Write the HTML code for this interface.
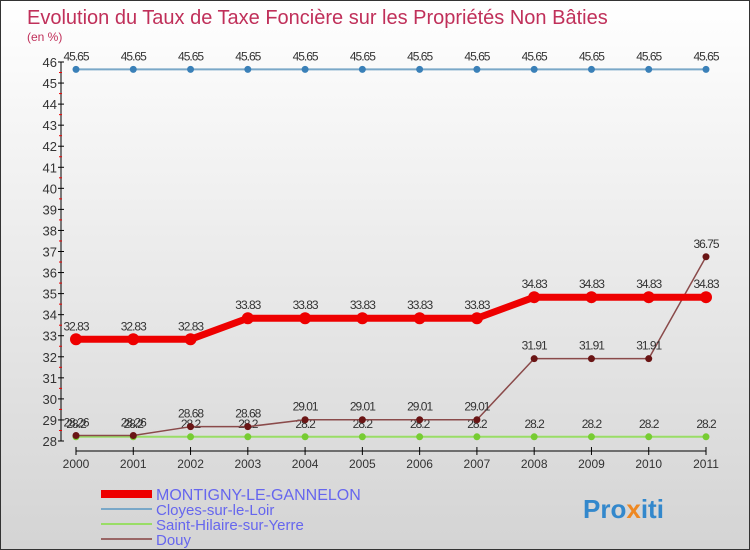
<!DOCTYPE html>
<html><head><meta charset="utf-8"><style>
body{margin:0}
#c{width:750px;height:550px;position:relative;overflow:hidden;background:linear-gradient(#ffffff,#d4d4d4);font-family:"Liberation Sans",sans-serif;box-sizing:border-box;border:1px solid #333}
</style></head><body>
<div id="c">
<svg id="s" width="750" height="550" xmlns="http://www.w3.org/2000/svg">
<text x="26" y="23" font-size="20" fill="#c0305a">Evolution du Taux de Taxe Foncière sur les Propriétés Non Bâties</text>
<text x="26" y="40" font-size="12" fill="#c0305a">(en %)</text>
<g id="axes"></g><g id="series"></g>
<g>
<rect x="100" y="489" width="51" height="8" fill="#e00"/>
<text x="155" y="499" font-size="16" fill="#6666ee">MONTIGNY-LE-GANNELON</text>
<line x1="100" y1="508" x2="151" y2="508" stroke="#7aa8c8" stroke-width="2"/>
<text x="155" y="514" font-size="15" fill="#6666ee">Cloyes-sur-le-Loir</text>
<line x1="100" y1="523" x2="151" y2="523" stroke="#99dd66" stroke-width="2"/>
<text x="155" y="529" font-size="15" fill="#6666ee">Saint-Hilaire-sur-Yerre</text>
<line x1="100" y1="538" x2="151" y2="538" stroke="#996666" stroke-width="2"/>
<text x="155" y="544" font-size="15" fill="#6666ee">Douy</text>
</g>
<text x="582" y="517" font-size="26" font-weight="bold" fill="#3388cc">Pro<tspan fill="#ee8822">x</tspan>iti</text>
</svg>
</div>
<script>
const years=[2000,2001,2002,2003,2004,2005,2006,2007,2008,2009,2010,2011];
const montigny=[32.83,32.83,32.83,33.83,33.83,33.83,33.83,33.83,34.83,34.83,34.83,34.83];
const cloyes=[45.65,45.65,45.65,45.65,45.65,45.65,45.65,45.65,45.65,45.65,45.65,45.65];
const hilaire=[28.2,28.2,28.2,28.2,28.2,28.2,28.2,28.2,28.2,28.2,28.2,28.2];
const douy=[28.26,28.26,28.68,28.68,29.01,29.01,29.01,29.01,31.91,31.91,31.91,36.75];
const yTicks=[28,29,30,31,32,33,34,35,36,37,38,39,40,41,42,43,44,45,46];
const NS="http://www.w3.org/2000/svg";
const X=i=>75+i*(630/11);
const Y=v=>440-(v-28)*(379/18);
function mk(t,a,p){const e=document.createElementNS(NS,t);for(const k in a)e.setAttribute(k,a[k]);p.appendChild(e);return e;}
const ax=document.getElementById('axes'),se=document.getElementById('series');
let l=mk('line',{x1:60,y1:Y(46),x2:60,y2:Y(28),stroke:'#000'},ax);


l=mk('line',{x1:X(0),y1:450,x2:X(11),y2:450,stroke:'#000'},ax);


yTicks.forEach(v=>{
 mk('line',{x1:57,y1:Y(v),x2:63,y2:Y(v),stroke:'#000'},ax);
 if(v<46)mk('line',{x1:58,y1:Y(v+0.5),x2:61,y2:Y(v+0.5),stroke:'#e00'},ax);
 const t=mk('text',{x:56,y:Y(v)+5,'font-size':13,fill:'#333','text-anchor':'end'},ax);
 
 
 t.textContent=v;
});
years.forEach((y,i)=>{
 mk('line',{x1:X(i),y1:446,x2:X(i),y2:454,stroke:'#000'},ax);
 const t=mk('text',{x:X(i),y:467,'font-size':12,fill:'#333','text-anchor':'middle'},ax);
 
 
 t.textContent=y;
});
function series(d,name,col,w,r,dot){
 const g=mk('g',{},se);
 
 
 mk('polyline',{points:d.map((v,i)=>X(i)+','+Y(v)).join(' '),fill:'none',stroke:col,'stroke-width':w,'stroke-linejoin':'round'},g);
 d.forEach((v,i)=>{
  const c=mk('circle',{cx:X(i),cy:Y(v),r:r,fill:dot},g);
  
  
  const t=mk('text',{x:X(i),y:Y(v)-9,'font-size':12,fill:'#333','text-anchor':'middle','letter-spacing':'-1'},g);
  
  
  t.textContent=String(v);
 });
}
series(cloyes,'cloyes','#7aa8c8',2,3.5,'#3a80b8');
series(hilaire,'saint-hilaire','#99dd66',2,3.5,'#77cc33');
series(douy,'douy','#8a4a4a',1.5,3.5,'#6a1515');
series(montigny,'montigny','#ee0000',7,6,'#ee0000');
</script>
</body></html>
